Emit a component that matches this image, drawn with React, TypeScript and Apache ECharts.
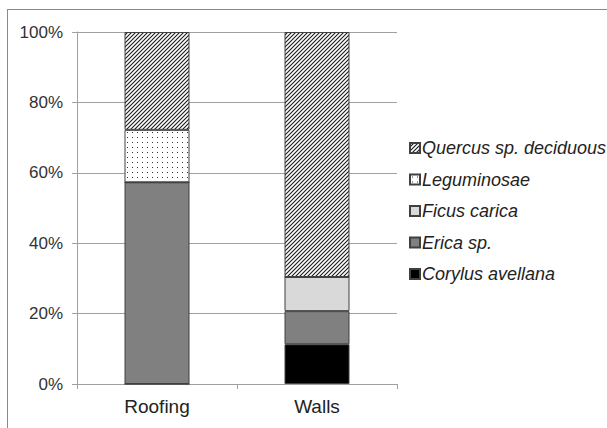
import React, { useEffect, useRef } from "react";
import * as echarts from "echarts";

const categories = ["Roofing", "Walls"];
const seriesNames = ["Corylus avellana", "Erica sp.", "Ficus carica", "Leguminosae", "Quercus sp. deciduous"];
const corylus = [0, 11.3];
const erica = [57.3, 9.4];
const ficus = [0, 9.7];
const leguminosae = [14.9, 0];
const quercus = [27.8, 69.6];
const yTicks = [0, 20, 40, 60, 80, 100];
const legendOrder = ["Quercus sp. deciduous", "Leguminosae", "Ficus carica", "Erica sp.", "Corylus avellana"];

function hatchPattern(): string {
  const c = document.createElement("canvas");
  c.width = 4;
  c.height = 4;
  const ctx = c.getContext("2d")!;
  ctx.fillStyle = "#ffffff";
  ctx.fillRect(0, 0, 4, 4);
  ctx.strokeStyle = "#1a1a1a";
  ctx.lineWidth = 1.1;
  ctx.beginPath();
  ctx.moveTo(-1, 5);
  ctx.lineTo(5, -1);
  ctx.moveTo(-1, 1);
  ctx.lineTo(1, -1);
  ctx.moveTo(3, 5);
  ctx.lineTo(5, 3);
  ctx.stroke();
  return c.toDataURL();
}

function dotPattern(): string {
  const c = document.createElement("canvas");
  c.width = 5;
  c.height = 5;
  const ctx = c.getContext("2d")!;
  ctx.fillStyle = "#ffffff";
  ctx.fillRect(0, 0, 5, 5);
  ctx.fillStyle = "#333333";
  ctx.fillRect(2, 2, 1, 1);
  return c.toDataURL();
}

export default function App() {
  const ref = useRef<HTMLDivElement>(null);
  useEffect(() => {
    if (!ref.current) return;
    const chart = echarts.init(ref.current, null, { renderer: "svg" });
    const hatch = hatchPattern();
    const dots = dotPattern();
    const border = { borderColor: "#404040", borderWidth: 1 };
    const mk = (name: string, data: number[], color: any) => ({
      name,
      type: "bar",
      stack: "total",
      barWidth: 65,
      data,
      itemStyle: { color, ...border },
      emphasis: { disabled: true },
    });
    chart.setOption({
      animation: false,
      backgroundColor: "#ffffff",
      textStyle: { fontFamily: "'Liberation Sans', Arial, sans-serif" },
      grid: { left: 77, right: 210, top: 32, bottom: 44, containLabel: false },
      xAxis: {
        type: "category",
        data: categories,
        axisLine: { lineStyle: { color: "#a0a0a0", width: 1 } },
        axisTick: { show: true, length: 5, lineStyle: { color: "#a0a0a0" } },
        axisLabel: { color: "#222222", fontSize: 19, margin: 13 },
      },
      yAxis: {
        type: "value",
        min: 0,
        max: 100,
        interval: 20,
        axisLine: { show: true, lineStyle: { color: "#a0a0a0", width: 1 } },
        axisTick: { show: true, length: 5, lineStyle: { color: "#a0a0a0" } },
        splitLine: { lineStyle: { color: "#a0a0a0", width: 1 } },
        axisLabel: {
          color: "#333333",
          fontSize: 17,
          margin: 14,
          formatter: (v: number) => (yTicks.includes(v) ? v + "%" : ""),
        },
      },
      legend: {
        orient: "vertical",
        left: 404,
        top: 133,
        icon: "rect",
        itemWidth: 10,
        itemHeight: 10,
        itemGap: 11.5,
        selectedMode: false,
        data: legendOrder,
        textStyle: {
          fontSize: 18,
          fontStyle: "italic",
          color: "#222222",
          lineHeight: 20,
          padding: [0, 0, 0, -3],
        },
      },
      graphic: [
        { type: "line", shape: { x1: 7, y1: 9.5, x2: 607, y2: 9.5 }, style: { stroke: "#8a8a8a", lineWidth: 1 } },
        { type: "line", shape: { x1: 7.5, y1: 9, x2: 7.5, y2: 428 }, style: { stroke: "#8a8a8a", lineWidth: 1 } },
      ],
      series: [
        mk(seriesNames[0], corylus, "#000000"),
        mk(seriesNames[1], erica, "#808080"),
        mk(seriesNames[2], ficus, "#d9d9d9"),
        mk(seriesNames[3], leguminosae, { image: dots, repeat: "repeat" }),
        mk(seriesNames[4], quercus, { image: hatch, repeat: "repeat" }),
      ],
    });
    return () => chart.dispose();
  }, []);
  return <div ref={ref} style={{ width: 607, height: 428, position: "absolute", left: 0, top: 0 }} />;
}
